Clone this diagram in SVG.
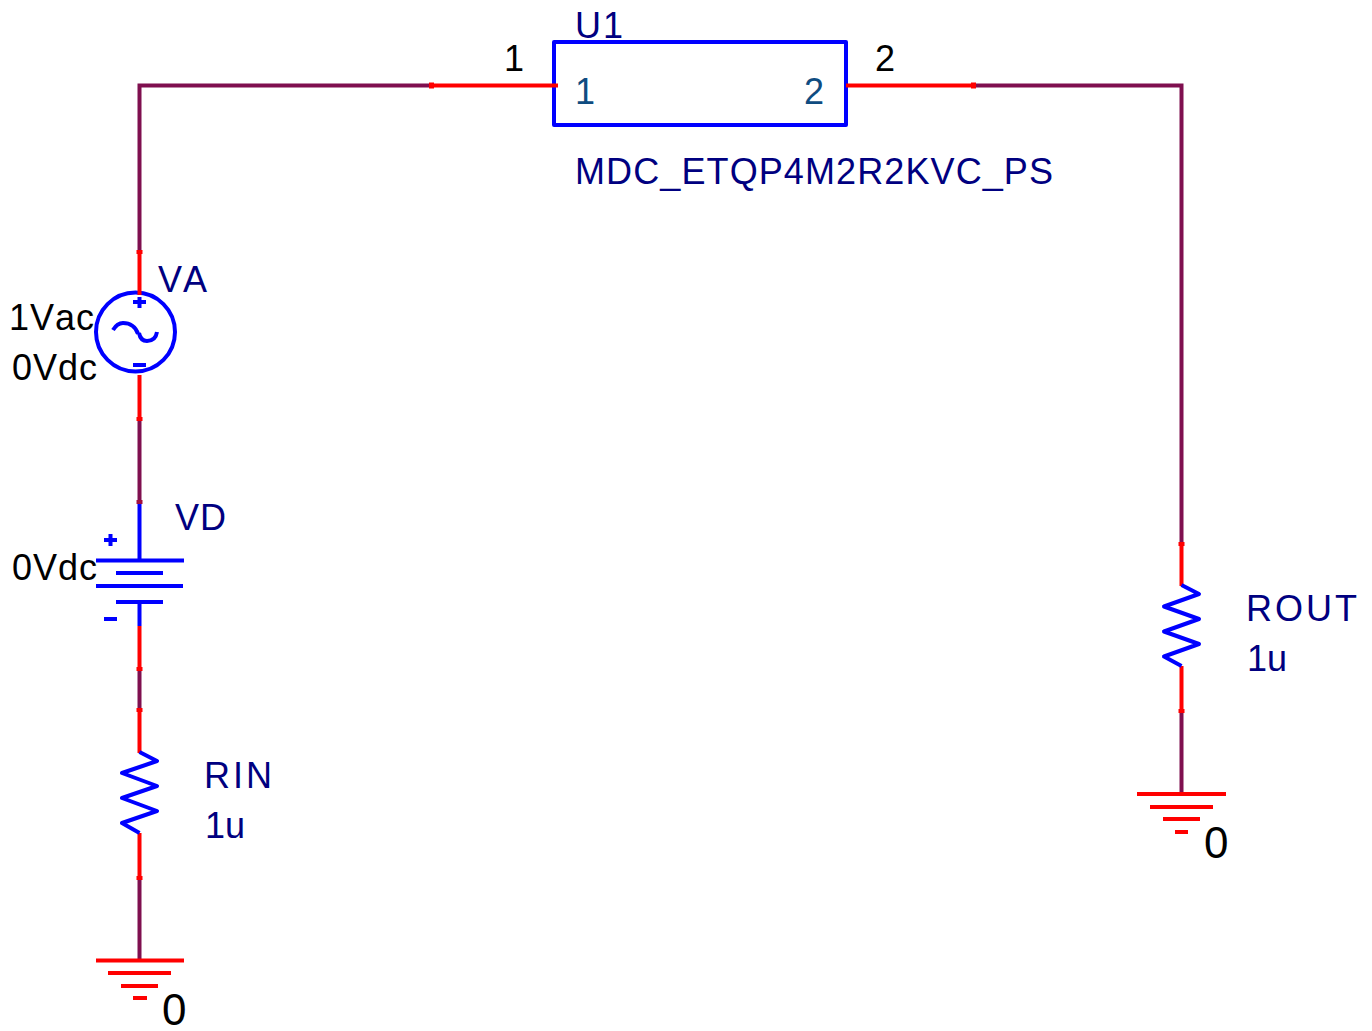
<svg xmlns="http://www.w3.org/2000/svg" width="1372" height="1031" viewBox="0 0 1372 1031">
<style>
.w{fill:none;stroke:#7f0f4f;stroke-width:4}
.r{fill:none;stroke:#ff0000;stroke-width:4}
.t{fill:none;stroke:#ff0000;stroke-width:6}
.b{fill:none;stroke:#0000ff;stroke-width:4;stroke-linejoin:round}
text{font-family:"Liberation Sans",Arial,sans-serif;font-size:36px;font-kerning:none}
.n{fill:#000080}
.k{fill:#000000}
.p{fill:#0f4c81}
.z{font-size:44px}
</style>
<rect width="1372" height="1031" fill="#ffffff"/>
<g id="connectors">
<path class="w" d="M432 85.500H139.500V252M139.500 419V502M139.500 669V710M139.500 878V960M973 85.500H1181.500V544M1181.500 711V794"/>
</g>
<g id="U1">
<rect class="b" x="554" y="42" width="292" height="83"/>
<path class="r" d="M430 85.500H558M846 85.500H975"/>
<path class="t" d="M429 85.500H434M971 85.500H976"/>
<text class="n" x="575" y="38" style="letter-spacing:2px">U1</text>
<text class="k" x="504" y="71">1</text>
<text class="k" x="875" y="71">2</text>
<text class="p" x="575" y="104">1</text>
<text class="p" x="804" y="104">2</text>
<text class="n" x="575" y="184" textLength="478" lengthAdjust="spacing">MDC_ETQP4M2R2KVC_PS</text>
</g>
<g id="VA">
<circle class="b" cx="135.500" cy="332" r="39.500"/>
<path class="r" d="M139.500 252V295M139.500 375V419"/>
<path class="t" d="M139.500 250V254M139.500 417V421"/>
<path class="b" d="M133 302H146M139.500 297V308M133 365H146M113 330C116 325 119 323 123 323C130 323 136 327 138 334M139 333C140 338 143 341 147 341C152 341 156 338 157 332"/>
<text class="n" x="158" y="292" style="letter-spacing:1px">VA</text>
<text class="k" x="9" y="330" style="letter-spacing:1px">1Vac</text>
<text class="k" x="12" y="380" style="letter-spacing:1px">0Vdc</text>
</g>
<g id="VD">
<path class="b" d="M139.500 502V560M96 560.500H184M116 573H163M96 586H183M116 602H163M139.500 602V626M104 540H117M110.500 534V546M104 619H117"/>
<path class="r" d="M139.500 626V670"/>
<path class="t" d="M139.500 667V671"/>
<path d="M139.500 500V504" fill="none" stroke="#a01040" stroke-width="6"/>
<text class="n" x="175" y="530" style="letter-spacing:1px">VD</text>
<text class="k" x="12" y="580" style="letter-spacing:1px">0Vdc</text>
</g>
<g id="RIN">
<path class="r" d="M139.500 710V753M139.500 833V878"/>
<path class="t" d="M139.500 708V712M139.500 876V880"/>
<path class="b" d="M139.500 752L157 761L122 773L157 786L122 798L157 811L122 823L139.500 833"/>
<text class="n" x="204" y="788" style="letter-spacing:3px">RIN</text>
<text class="n" x="205" y="838">1u</text>
</g>
<g id="ROUT">
<path class="r" d="M1181.500 544V586M1181.500 666V711"/>
<path class="t" d="M1181.500 542V546M1181.500 709V713"/>
<path class="b" d="M1181.500 585L1199 594L1164 606.500L1199 619L1164 631.500L1199 644L1164 656.500L1181.500 666"/>
<text class="n" x="1246" y="621" style="letter-spacing:3px">ROUT</text>
<text class="n" x="1247" y="671">1u</text>
</g>
<g id="GND1">
<path class="r" d="M96 960.500H184M108 973H171M121 986H158M133 998H147"/>
<text class="k z" x="162" y="1025">0</text>
</g>
<g id="GND2">
<path class="r" d="M1137 794H1226M1150 807H1213M1163 819H1200M1175 832H1188"/>
<text class="k z" x="1204" y="858">0</text>
</g>
</svg>
